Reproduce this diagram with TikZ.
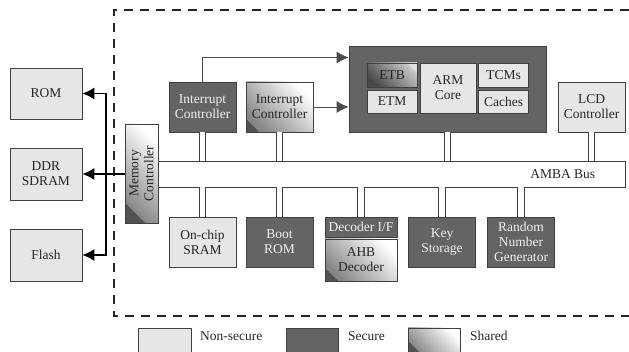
\documentclass[tikz,border=0pt]{standalone}
\usepackage{fontspec}
\setmainfont{Liberation Serif}
\usetikzlibrary{arrows.meta}
\definecolor{nsfill}{HTML}{E6E6E6}
\definecolor{secfill}{HTML}{646464}
\definecolor{edge}{HTML}{404040}
\begin{document}
\begin{tikzpicture}[x=1pt,y=-1pt,
  sz/.style 2 args={minimum width=#1pt, minimum height=#2pt},
  box/.style={draw=edge, line width=0.8pt, inner sep=0pt, align=center,
    font=\fontsize{13.5}{15}\selectfont},
  nonsec/.style={box, fill=nsfill, text=black!85},
  sec/.style={box, fill=secfill, text=black!6},
  shared/.style={box, top color=white, bottom color=black!48, shading angle=-45,
    text=black!85,
    path picture={\fill[black!68] (path picture bounding box.south west)
      -- ++(#1pt,0pt) -- ++(-#1pt,#1pt) -- cycle;}},
  shared/.default=13,
  etbstyle/.style={box, top color=black!22, bottom color=black!72, shading angle=-45,
    text=black!85,
    path picture={\fill[black!12] (path picture bounding box.north east)
      -- ++(-10pt,0pt) -- ++(10pt,-10pt) -- cycle;}},
  conn/.style={draw=edge, line width=0.8pt, double=white, double distance=5.5pt},
  arr/.style={draw=black, line width=1.1pt, -{Latex[length=12pt,width=12pt]}},
  garr/.style={draw=black!70, line width=0.8pt, -{Latex[length=12pt,width=12pt]}},
  lbl/.style={font=\fontsize{13.5}{15}\selectfont, text=black!85, inner sep=0pt},
  boundary/.style={draw=black!85, line width=1.8pt, dash pattern=on 9pt off 7pt}
]
\useasboundingbox (0,0) rectangle (629,352);

% dashed boundary
\draw[boundary] (629,10) -- (114,10) -- (114,316) -- (629,316);

% off-chip memories
\node[nonsec, sz={72}{51}] (rom) at (46,93.5) {ROM};
\node[nonsec, sz={72}{52}] (ddr) at (46,174) {DDR\\SDRAM};
\node[nonsec, sz={72}{52}] (flash) at (46,255) {Flash};

% AMBA bus
\node[draw=edge, line width=0.8pt, fill=white, sz={467}{26}] (amba) at (391.5,174) {};
\node[lbl, anchor=east] (ambalbl) at ([xshift=-30pt]amba.east) {AMBA Bus};

% memory controller
\node[shared=20, sz={33}{99}] (mc) at (141.5,173.5) {};
\node[lbl, rotate=90, align=center] (mctext) at (mc) {Memory\\Controller};

% top row
\node[sec, sz={67}{50}] (ic1) at (202.5,107) {Interrupt\\Controller};
\node[shared, sz={67}{50}] (ic2) at (279.5,107) {Interrupt\\Controller};
\node[box, fill=secfill, sz={197}{86}] (arm) at (447.5,89) {};
\node[etbstyle, sz={50}{24}] (etb) at (392,75) {ETB};
\node[nonsec, sz={50}{23}] (etm) at (392,101.5) {ETM};
\node[nonsec, sz={56}{50}] (core) at (448,88) {ARM\\Core};
\node[nonsec, sz={50}{24}] (tcm) at (503.5,75) {TCMs};
\node[nonsec, sz={50}{23}] (cache) at (503.5,101.5) {Caches};
\node[nonsec, sz={67}{50}] (lcd) at (591.5,107) {LCD\\Controller};

% bottom row
\node[nonsec, sz={67}{50}] (sram) at (202.5,242) {On-chip\\SRAM};
\node[sec, sz={67}{50}] (boot) at (279.5,242) {Boot\\ROM};
\node[sec, sz={72}{20}] (decif) at (361,227) {Decoder I/F};
\node[shared, sz={72}{42}] (ahb) at (361,260) {AHB\\Decoder};
\node[sec, sz={67}{50}] (key) at (442,242) {Key\\Storage};
\node[sec, sz={67}{50}] (rng) at (521,242) {Random\\Number\\Generator};

% bus connectors
\draw[conn] (ic1.south) -- (ic1.south |- amba.north);
\draw[conn] (ic2.south) -- (ic2.south |- amba.north);
\draw[conn] (arm.south) -- (arm.south |- amba.north);
\draw[conn] (lcd.south) -- (lcd.south |- amba.north);
\draw[conn] (sram.north) -- (sram.north |- amba.south);
\draw[conn] (boot.north) -- (boot.north |- amba.south);
\draw[conn] (decif.north) -- (decif.north |- amba.south);
\draw[conn] (key.north) -- (key.north |- amba.south);
\draw[conn] (rng.north) -- (rng.north |- amba.south);

% interrupt lines
\draw[garr] (ic1.north) |- ([yshift=31.5pt]arm.west);
\draw[garr] (ic2.east) -- (ic2.east -| arm.west);

% memory controller to external memories
\coordinate (trunk) at (106,174);
\draw[arr] (mc.west |- ddr.east) -- (ddr.east);
\draw[arr] (trunk) |- (rom.east);
\draw[arr] (trunk) |- (flash.east);

% legend
\node[nonsec, sz={53}{26}] (lgns) at (164.5,341) {};
\node[lbl, anchor=base west] (lgnstext) at (200,341) {Non-secure};
\node[sec, sz={52}{26}] (lgsec) at (312,341) {};
\node[lbl, anchor=base west] (lgsectext) at (348,341) {Secure};
\node[shared, sz={52}{26}] (lgsh) at (434,341) {};
\node[lbl, anchor=base west] (lgshtext) at (470,341) {Shared};
\end{tikzpicture}
\end{document}
